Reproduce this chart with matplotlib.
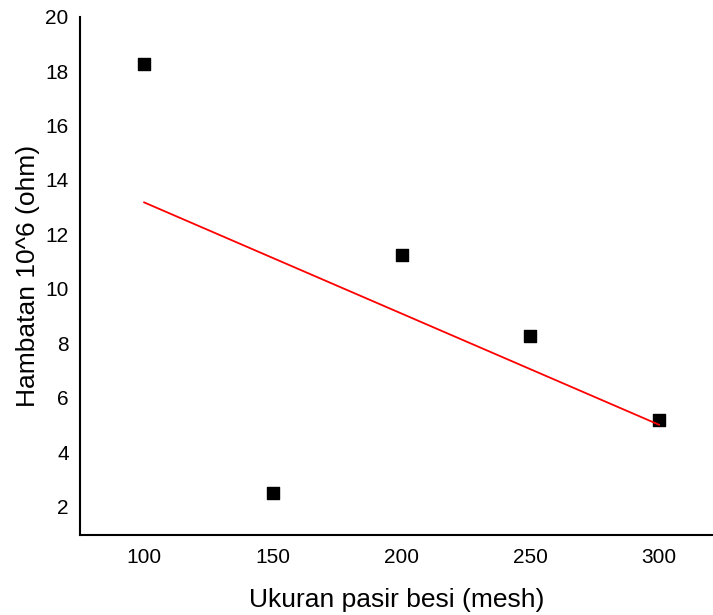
import matplotlib.pyplot as plt
import numpy as np

ukuran = [100, 150, 200, 250, 300]
hambatan = [18.26, 2.51, 11.25, 8.28, 5.17]
xticks = [100, 150, 200, 250, 300]
yticks = [2, 4, 6, 8, 10, 12, 14, 16, 18, 20]

plt.rcParams['font.family'] = ['Liberation Sans', 'DejaVu Sans']

fig = plt.figure(figsize=(7.13, 6.15), dpi=100)
ax = fig.add_axes([0.112, 0.130, 0.888, 0.843])

ax.scatter(ukuran, hambatan, marker='s', s=74, color='black', zorder=2)

# garis trend linear
m, c = np.polyfit(ukuran, hambatan, 1)
xs = np.array([ukuran[0], ukuran[-1]])
ax.plot(xs, m * xs + c, color='red', lw=1.3, zorder=3)

ax.set_xlim(75, 321)
ax.set_ylim(0.96, 20)
ax.set_xticks(xticks)
ax.set_yticks(yticks)
ax.tick_params(length=0, labelsize=15, pad=8)
ax.tick_params(axis='x', pad=9.5)
ax.spines['top'].set_visible(False)
ax.spines['right'].set_visible(False)
ax.spines['left'].set_linewidth(1.5)
ax.spines['bottom'].set_linewidth(1.5)

ax.set_xlabel('Ukuran pasir besi (mesh)', fontsize=19, labelpad=15)
ax.set_ylabel('Hambatan 10^6 (ohm)', fontsize=19, labelpad=4)

plt.savefig('out.png', dpi=100)
